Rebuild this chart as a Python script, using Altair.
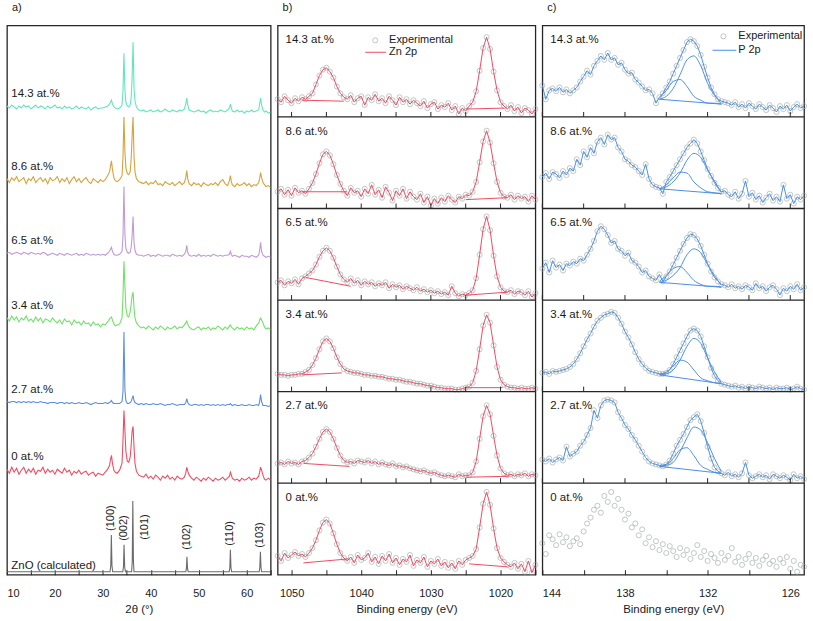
import altair as alt
import pandas as pd

FONT = "Liberation Sans"
INK = "#1a1a1a"
FRAME = "#262626"
CIRCLE = "#9ea7a7"
ZN_RED = "#ef4b62"
P_BLUE = "#4b8fe2"
CALC_COLOR = "#6b6b6b"

SAMPLES = ["14.3 at.%", "8.6 at.%", "6.5 at.%", "3.4 at.%", "2.7 at.%", "0 at.%"]
CALC_NAME = "ZnO (calculated)"
XRD_COLORS = ["#62e6bb", "#d8a23a", "#c29ad6", "#6fe267", "#5b8fdc", "#f04d62"]


def seq(start, stop, step):
    n = int(round((stop - start) / step)) + 1
    return [round(start + k * step, 3) for k in range(n)]


def check(name, xs, ys):
    if len(xs) != len(ys):
        raise ValueError(f"{name}: {len(xs)} x values but {len(ys)} y values")


# ---------------- a) XRD ----------------
XRD_2THETA = (seq(10, 31, 0.5)
              + [31.4, 31.6, 31.8, 32.0, 32.3, 32.6, 33.0, 33.5, 34.0, 34.2, 34.4, 34.6,
                 34.8, 35.1, 35.4, 35.7, 35.9, 36.1, 36.3, 36.5, 36.7, 37.0, 37.5, 38.0]
              + seq(38.5, 47, 0.5) + [47.3, 47.5, 47.7]
              + seq(48, 56, 0.5) + [56.4, 56.6, 56.8]
              + seq(57, 62.5, 0.5) + [62.7, 62.9, 63.1, 63.4, 63.7, 64.0, 64.5, 65.0])

XRD_14_3 = ([2, 0, 3, 1, -1, 2, 0, 3, 1, 2, -1, 1, 3, 0, 2, 1, -1, 2, 0, 1,
             3, 0, 1, -1, 2, 0, 1, -1, 0, 2, -1, 1, 0, -1, 1, -2, 0, 1, -1, 0, 0, 1, 2]
            + [4, 6, 8, 4, 1, 0, -1, 0, 3, 17, 55, 18, 6, 2, 1, 3, 10, 30, 66, 20, 7, 1, -2, -3]
            + [-2, -4, -3, -2, -4, -3, -2, -4, -3, -1, -3, -4, -2, -3, -4, -2, -3, -1]
            + [4, 10, 3]
            + [-2, -3, -4, -3, -2, -4, -3, -5, -3, -2, -4, -3, -4, -2, -3, -4, -2]
            + [0, 4, 0]
            + [-3, -4, -2, -4, -3, -5, -3, -4, -2, -4, -3, -2]
            + [4, 10, 3, -2, -4, -3, -5, -4])
XRD_8_6 = ([3, -1, 4, 1, 5, 0, 2, 4, -2, 3, 1, 5, -1, 2, 4, 0, 3, -2, 4, 1,
            2, 5, -1, 3, 0, 4, -2, 2, 5, 0, 3, -1, 2, 4, 0, -2, 3, 1, -1, 2, 0, 2, 6]
           + [10, 16, 21, 12, 4, 1, 0, 2, 6, 25, 65, 30, 14, 8, 7, 10, 22, 45, 65, 25, 10, 3, 0, -1]
           + [-2, 0, -3, -1, -2, 1, -3, -2, -4, 0, -2, -3, -1, -4, -2, 0, -3, -1]
           + [4, 11, 3]
           + [-2, -4, -1, -3, -2, -5, -1, -3, -4, -2, -3, -1, -4, 0, 2, -2, -4]
           + [1, 6, 0]
           + [-3, -5, -2, -4, -3, -1, -4, -2, -5, -3, -4, -1]
           + [3, 9, 4, -1, -3, -5, -4, -6])
XRD_6_5 = ([1, 2, 0, 1, 2, 1, 0, 2, 1, 0, 2, 1, 0, 1, 0, 2, 1, -1, 0, 1,
            0, -1, 1, 0, -1, 1, 0, -1, 0, 1, -1, 0, -1, 1, 0, -1, 0, -1, 0, -1, 0, -1, 1]
           + [3, 5, 7, 3, 0, -1, -1, 0, 3, 18, 68, 20, 6, 2, 1, 2, 7, 18, 38, 12, 4, 0, -1, -1]
           + [-2, -1, 0, -2, -1, -2, 0, -1, -2, -1, -1, -2, 0, -1, -2, -1, -2, 0]
           + [3, 9, 2]
           + [-1, -2, -1, -2, 0, -2, -1, -2, -1, -2, 0, -1, -2, -1, -2, -1, -1]
           + [0, 3, 0]
           + [-2, -1, -2, -3, -1, -2, -2, -3, -1, -2, -3, -1]
           + [4, 12, 3, -1, -2, -3, -2, -3])
XRD_3_4 = ([8, 5, 10, 6, 9, 4, 8, 6, 10, 5, 7, 4, 9, 5, 8, 3, 7, 6, 4, 8,
            5, 3, 6, 2, 7, 4, 5, 1, 6, 3, 4, 1, 5, 2, 3, 0, 4, 1, 2, -1, 2, 1, 4]
           + [7, 8, 9, 6, 2, 0, 1, 2, 8, 30, 65, 40, 18, 10, 9, 14, 22, 30, 34, 18, 8, 3, 0, -2]
           + [-1, -3, 0, -2, -4, -1, -3, 0, -2, -4, -1, -3, -2, 0, -3, -1, -2, 1]
           + [3, 5, 2]
           + [-1, -3, -4, -2, -1, -4, -2, -3, -1, -4, -2, -3, 0, -2, -4, -1, -3]
           + [0, 1, -1]
           + [-2, -4, -1, -3, -2, -4, -1, -3, -2, -4, 0, 3]
           + [6, 8, 6, 3, -1, -3, -2, -4])
XRD_2_7 = ([2, 1, 2, 2, 1, 2, 1, 2, 1, 2, 1, 2, 1, 1, 2, 1, 1, 0, 1, 1,
            1, 0, 1, 1, 0, 1, 0, 1, 0, 0, 1, 0, 0, 1, 0, -1, 0, 1, 0, 0, 0, 1, 0]
           + [1, 2, 3, 1, 0, 0, 0, 0, 2, 12, 72, 14, 3, 0, 0, 1, 2, 5, 8, 3, 1, 0, -1, 0]
           + [-1, 0, -1, -1, 0, -1, -1, 0, -1, -2, -1, -1, 0, -1, -2, -1, -1, -1]
           + [1, 5, 1]
           + [-1, -2, -1, -1, -2, -1, -2, -1, -1, -2, -1, -2, -1, -2, -1, -2, -1]
           + [-1, 0, -1]
           + [-2, -1, -2, -2, -1, -2, -2, -1, -2, -2, -1, -2]
           + [2, 9, 2, -2, -2, -2, -3, -2])
XRD_0 = ([6, 2, 8, 3, 7, 1, 5, 8, 2, 6, 3, 7, 1, 5, 4, 8, 2, 6, 3, 5,
          1, 6, 4, 2, 7, 3, 5, 0, 4, 2, 5, 1, 3, 4, 0, 2, 3, -1, 2, 1, 0, 3, 6]
         + [10, 16, 20, 12, 5, 3, 2, 5, 12, 35, 65, 45, 24, 14, 13, 18, 30, 44, 49, 28, 12, 4, 0, -1]
         + [-2, 1, -3, -1, -4, 0, -2, -5, -1, -3, 0, -4, -2, -5, -1, -3, -4, -2]
         + [2, 8, 4]
         + [0, -3, -5, -2, -4, -6, -3, -5, -2, -4, -6, -3, -5, -4, -2, -5, -3]
         + [-1, 3, 0]
         + [-3, -5, -4, -6, -3, -5, -4, -2, -5, -3, -4, -1]
         + [3, 8, 5, 0, -4, -5, -3, -5])
XRD_SERIES = [XRD_14_3, XRD_8_6, XRD_6_5, XRD_3_4, XRD_2_7, XRD_0]

CALC_2THETA = [10, 31.5, 31.65, 31.77, 31.9, 32.05, 34.15, 34.3, 34.42, 34.55, 34.7,
               36.0, 36.13, 36.25, 36.38, 36.5, 47.3, 47.42, 47.54, 47.66, 47.8,
               56.35, 56.48, 56.6, 56.72, 56.85, 62.6, 62.73, 62.86, 62.99, 63.1, 65]
CALC_I = [0, 0, 6, 37, 6, 0, 0, 5, 27, 5, 0, 0, 10, 71, 10, 0, 0, 3, 15, 3, 0,
          0, 4, 22, 4, 0, 0, 4, 20, 4, 0, 0]
HKL = ["(100)", "(002)", "(101)", "(102)", "(110)", "(103)"]
HKL_2THETA = [31.77, 34.42, 36.25, 47.54, 56.6, 62.86]

# stacking offsets of the XRD traces (layout)
XRD_OFFSETS = [469, 395, 322, 250, 172, 100]
CALC_OFFSET = 3

# ---------------- b) Zn 2p ----------------
ZN_E = seq(1052, 1015, -0.5)
ZN_14_3 = [18, 15, 21, 17, 14, 19, 16, 20, 18, 21,
           24, 33, 42, 48, 50, 46, 40, 31, 24, 20,
           18, 22, 15, 19, 21, 12, 20, 17, 23, 16,
           19, 14, 21, 17, 12, 20, 15, 18, 13, 17,
           14, 11, 16, 9, 13, 15, 8, 12, 10, 14,
           7, 11, 3, 9, 6, 11, 15, 26, 47, 70,
           81, 69, 46, 27, 15, 11, 8, 12, 6, 10,
           4, 9, 7, 3, 8]
ZN_8_6 = [17, 20, 14, 19, 13, 21, 16, 18, 15, 20,
          26, 35, 46, 55, 58, 54, 45, 34, 25, 18,
          13, 21, 16, 18, 12, 20, 15, 24, 14, 19,
          11, 22, 16, 8, 18, 13, 20, 10, 17, 12,
          9, 15, 6, 12, 3, 10, 5, 11, 7, 13,
          9, 6, 12, 10, 14, 13, 17, 27, 47, 68,
          79, 67, 46, 27, 16, 12, 11, 14, 9, 13,
          10, 12, 7, 13, 9]
ZN_6_5 = [18, 20, 15, 19, 17, 21, 16, 22, 24, 27,
          30, 36, 44, 50, 53, 50, 43, 34, 26, 21,
          18, 22, 17, 20, 15, 19, 16, 18, 14, 17,
          15, 18, 12, 16, 13, 15, 11, 14, 12, 10,
          13, 9, 11, 8, 10, 7, 9, 6, 8, 5,
          14, 7, 4, 6, 5, 7, 10, 22, 46, 72,
          85, 71, 45, 24, 13, 9, 8, 10, 6, 9,
          8, 5, 9, 3, 7]
ZN_3_4 = [18, 17, 17, 16, 17, 17, 18, 18, 20, 22,
          27, 34, 43, 51, 54, 51, 44, 35, 28, 23,
          21, 20, 19, 19, 18, 17, 17, 16, 16, 15,
          15, 14, 13, 13, 12, 12, 11, 10, 10, 9,
          8, 8, 7, 6, 6, 5, 4, 4, 3, 3,
          3, 2, 2, 3, 4, 5, 9, 21, 43, 67,
          78, 70, 47, 25, 12, 7, 5, 4, 4, 3,
          4, 3, 3, 4, 3]
ZN_2_7 = [20, 21, 19, 22, 20, 21, 19, 22, 23, 26,
          30, 37, 45, 52, 55, 52, 45, 36, 28, 23,
          21, 22, 20, 23, 22, 21, 23, 20, 22, 19,
          21, 19, 18, 20, 17, 18, 16, 17, 15, 14,
          13, 12, 13, 11, 10, 11, 9, 8, 7, 8,
          7, 6, 9, 7, 8, 8, 11, 22, 45, 68,
          79, 70, 48, 28, 15, 10, 8, 9, 7, 9,
          8, 10, 7, 9, 8]
ZN_0 = [19, 14, 22, 17, 20, 23, 19, 21, 18, 22,
        27, 35, 45, 53, 56, 52, 42, 31, 22, 17,
        14, 18, 12, 20, 15, 17, 22, 13, 18, 11,
        19, 14, 21, 12, 17, 10, 16, 13, 20, 9,
        15, 12, 18, 8, 14, 11, 16, 9, 13, 7,
        12, 6, 14, 10, 15, 17, 19, 26, 48, 72,
        84, 71, 47, 27, 17, 13, 10, 8, 12, 6,
        11, 3, 14, 2, 10]
ZN_SERIES = [ZN_14_3, ZN_8_6, ZN_6_5, ZN_3_4, ZN_2_7, ZN_0]
# fitted background lines under the two Zn 2p peaks: [E_start, y_start, E_end, y_end]
ZN_BASELINES = [
    [[1048.5, 17, 1042.5, 16], [1025.0, 8, 1019.5, 9]],
    [[1048.5, 17, 1042.0, 17], [1025.0, 9, 1019.0, 11]],
    [[1048.0, 23, 1041.5, 14], [1025.0, 5, 1019.0, 8]],
    [[1048.5, 17, 1042.8, 19], [1024.7, 4, 1019.7, 4]],
    [[1048.2, 20, 1041.7, 17], [1025.0, 6, 1018.8, 7]],
    [[1048.3, 12, 1041.9, 16], [1024.5, 11, 1019.0, 8]],
]

# ---------------- c) P 2p ----------------
P_E = seq(144, 125, -0.25)
P_14_3 = [32, 18, 27, 29, 26, 30, 25, 28, 24, 27,
          30, 36, 41, 47, 43, 52, 57, 62, 58, 65,
          58, 60, 53, 55, 48, 44, 45, 38, 35, 31,
          27, 28, 24, 14, 20, 24, 30, 36, 44, 52,
          60, 68, 76, 79, 77, 72, 63, 51, 40, 30,
          23, 18, 16, 15, 14, 12, 15, 10, 13, 9,
          14, 11, 8, 13, 10, 7, 12, 9, 5, 11,
          8, 12, 6, 10, 13, 9, 11]
P_8_6 = [32, 36, 30, 37, 35, 31, 38, 34, 41, 38,
         50, 44, 58, 52, 62, 56, 68, 72, 65, 75,
         70, 72, 62, 58, 50, 48, 44, 42, 38, 34,
         45, 30, 24, 22, 21, 15, 27, 32, 38, 44,
         50, 56, 62, 66, 70, 66, 58, 49, 40, 33,
         26, 21, 17, 18, 14, 12, 17, 10, 15, 28,
         12, 16, 9, 13, 6, 11, 15, 8, 12, 7,
         24, 10, 14, 5, 12, 9, 13]
P_6_5 = [32, 38, 28, 40, 33, 36, 30, 37, 35, 39,
         37, 42, 40, 46, 52, 60, 70, 75, 72, 66,
         58, 60, 52, 50, 45, 48, 40, 38, 34, 28,
         30, 24, 22, 20, 26, 19, 24, 29, 36, 43,
         50, 57, 63, 67, 66, 62, 55, 46, 37, 29,
         23, 19, 16, 15, 13, 16, 12, 14, 11, 15,
         13, 10, 17, 12, 14, 9, 13, 15, 11, 5,
         12, 9, 14, 11, 16, 10, 13]
P_3_4 = [19, 20, 18, 21, 20, 21, 22, 23, 25, 28,
         33, 39, 46, 53, 59, 66, 72, 75, 78, 79,
         81, 80, 75, 69, 61, 55, 48, 40, 33, 28,
         24, 21, 20, 19, 18, 18, 19, 22, 28, 35,
         42, 49, 56, 62, 64, 62, 56, 46, 35, 24,
         16, 11, 8, 7, 6, 5, 6, 4, 5, 3,
         5, 4, 3, 5, 4, 3, 4, 2, 4, 3,
         3, 4, 2, 3, 5, 3, 2]
P_2_7 = [24, 22, 25, 21, 24, 26, 23, 37, 27, 30,
         32, 38, 42, 49, 56, 74, 66, 79, 84, 85,
         84, 82, 72, 66, 59, 55, 49, 44, 38, 32,
         26, 22, 20, 19, 18, 17, 19, 23, 30, 38,
         44, 50, 57, 64, 67, 70, 63, 51, 37, 25,
         16, 12, 10, 8, 11, 7, 9, 6, 10, 21,
         8, 5, 7, 9, 6, 8, 4, 9, 7, 5,
         8, 6, 3, 9, 5, 7, 4]
P_0 = [32, 21, 40, 36, 30, 41, 33, 38, 29, 34,
       37, 31, 44, 52, 58, 66, 70, 63, 80, 74,
       84, 70, 77, 66, 56, 62, 48, 52, 40, 46,
       32, 38, 28, 34, 25, 31, 22, 29, 24, 18,
       27, 20, 25, 16, 22, 30, 18, 24, 14, 21,
       17, 12, 22, 15, 19, 27, 13, 18, 10, 16,
       21, 12, 17, 9, 15, 19, 11, 14, 8, 16,
       12, 18, 6, 14, 3, 10, 8]
P_SERIES = [P_14_3, P_8_6, P_6_5, P_3_4, P_2_7, P_0]

P_COMP_E = [135.5, 135.0, 134.5, 134.0, 133.5, 133.0, 132.5, 132.0, 131.5, 131.0]
P_LARGE = [[18, 21, 29, 43, 58, 62, 52, 34, 22, 14],
           [20, 22, 27, 36, 49, 56, 52, 39, 28, 16],
           [18, 20, 25, 33, 46, 52, 48, 36, 25, 15],
           [17, 18, 22, 32, 46, 54, 49, 34, 20, 9],
           [17, 18, 21, 32, 46, 57, 54, 41, 25, 12]]
P_SMALL = [[19, 27, 36, 38, 31, 21, 17, 14, 14, 13],
           [20, 24, 31, 37, 36, 27, 21, 17, 16, 15],
           [19, 25, 32, 34, 28, 20, 16, 14, 14, 13],
           [18, 20, 26, 32, 30, 22, 14, 11, 9, 8],
           [18, 19, 25, 34, 36, 28, 18, 14, 11, 10]]
P_BASE = [[18, 13], [20, 15], [18, 13], [17, 8], [17, 10]]

# ---------------- layout ----------------
W_A, W_B, W_C = 265, 259, 263
H = 552
N_SUB = 6
SUB = 93.0                      # data units per stacked XPS sub-panel
Y_TOTAL = N_SUB * SUB
TICK_UNITS = 5 * Y_TOTAL / H    # 5 px expressed in data units


def sub_offset(k):
    return (N_SUB - 1 - k) * SUB


def bottom_axis(values, label_expr, title):
    return alt.Axis(values=values, format="d", offset=-5, tickSize=5, tickWidth=1,
                    tickColor=FRAME, domain=False, grid=False,
                    labelExpr=label_expr, labelFont=FONT, labelFontSize=11,
                    labelColor=INK, labelPadding=13, title=title, titleFont=FONT,
                    titleFontSize=11.5, titleFontWeight="normal", titleColor=INK,
                    titlePadding=5)


def panel_title(text):
    return alt.TitleParams(text=text, anchor="start", frame="group", font=FONT,
                           fontSize=11, fontWeight="normal", color=INK, offset=12, dx=5)


def text_layer(label, x, y, size=11):
    return alt.Chart(alt.Data(values=[{"label": label}])).mark_text(
        align="left", baseline="middle", font=FONT, fontSize=size, color=INK
    ).encode(x=alt.value(x), y=alt.value(y), text="label:N")


def legend_layers(color, cx, tx, y1, lx1, lx2, y2, name):
    one = alt.Data(values=[{"k": 1}])
    return [
        alt.Chart(one).mark_point(shape="circle", filled=False, color=CIRCLE, size=26,
                                  strokeWidth=0.9).encode(x=alt.value(cx), y=alt.value(y1)),
        text_layer("Experimental", tx, y1),
        alt.Chart(one).mark_rule(color=color, strokeWidth=1).encode(
            x=alt.value(lx1), x2=alt.value(lx2), y=alt.value(y2)),
        text_layer(name, tx, y2),
    ]


def divider_layers(x_enc, y_enc, tick_values, width):
    div = pd.DataFrame({"y": [sub_offset(k) for k in range(N_SUB - 1)]})
    rules = alt.Chart(div).mark_rule(color=FRAME, strokeWidth=1.3).encode(
        y=y_enc, x=alt.value(0), x2=alt.value(width))
    trows = [{"E": v, "y": d, "y2": d + TICK_UNITS} for d in div["y"] for v in tick_values]
    ticks = alt.Chart(pd.DataFrame(trows)).mark_rule(color=FRAME, strokeWidth=1).encode(
        x=x_enc, y=y_enc, y2="y2:Q")
    return rules, ticks


def sample_labels(y_enc):
    df = pd.DataFrame({"label": SAMPLES,
                       "y": [sub_offset(k) + SUB - 15 for k in range(N_SUB)]})
    return alt.Chart(df).mark_text(align="left", baseline="middle", font=FONT,
                                   fontSize=11.5, color=INK).encode(
        x=alt.value(8), y=y_enc, text="label:N")


# ---- panel a ----
rows = []
for name, off, vals in zip(SAMPLES, XRD_OFFSETS, XRD_SERIES):
    check(name, XRD_2THETA, vals)
    for t, v in zip(XRD_2THETA, vals):
        rows.append({"t": t, "y": off + v, "s": name})
check("calc", CALC_2THETA, CALC_I)
for t, v in zip(CALC_2THETA, CALC_I):
    rows.append({"t": t, "y": CALC_OFFSET + v, "s": CALC_NAME})
df_a = pd.DataFrame(rows)

x_a = alt.X("t:Q", scale=alt.Scale(domain=[10, 65], nice=False, zero=False),
            axis=bottom_axis(seq(10, 65, 5), "datum.value % 10 === 0 ? datum.label : ''",
                             "2θ (°)"))
y_a = alt.Y("y:Q", scale=alt.Scale(domain=[0, H], nice=False, zero=False), axis=None)

lines_a = alt.Chart(df_a).mark_line(strokeWidth=1.1, clip=True).encode(
    x=x_a, y=y_a,
    color=alt.Color("s:N", scale=alt.Scale(domain=SAMPLES + [CALC_NAME],
                                           range=XRD_COLORS + [CALC_COLOR]), legend=None),
)

lab_rows = [{"t": 10.9, "y": off + vals[0] + 12, "label": name}
            for name, off, vals in zip(SAMPLES, XRD_OFFSETS, XRD_SERIES)]
lab_rows.append({"t": 10.9, "y": CALC_OFFSET + 6, "label": CALC_NAME})
labels_a = alt.Chart(pd.DataFrame(lab_rows)).mark_text(
    align="left", baseline="middle", font=FONT, fontSize=11.5, color=INK
).encode(x=x_a, y=y_a, text="label:N")

tops = {h: CALC_I[CALC_2THETA.index(p)] for h, p in zip(HKL, HKL_2THETA)}
hkl_rows = [{"t": p, "y": CALC_OFFSET + max(tops[h] + 4, 22), "hkl": h}
            for h, p in zip(HKL, HKL_2THETA) if h != "(101)"]
hkl_side = [{"t": HKL_2THETA[2], "y": CALC_OFFSET + tops["(002)"] + 5, "hkl": "(101)"}]
hkl_a = alt.Chart(pd.DataFrame(hkl_rows)).mark_text(
    angle=270, align="left", baseline="middle", font=FONT, fontSize=11, color=INK
).encode(x=x_a, y=y_a, text="hkl:N")
hkl_b = alt.Chart(pd.DataFrame(hkl_side)).mark_text(
    angle=270, align="left", baseline="middle", font=FONT, fontSize=11, color=INK, dy=12
).encode(x=x_a, y=y_a, text="hkl:N")

panel_a = alt.layer(lines_a, labels_a, hkl_a, hkl_b).properties(
    width=W_A, height=H, title=panel_title("a)"))

# ---- panel b ----
zrows, brows = [], []
for k in range(N_SUB):
    check(SAMPLES[k], ZN_E, ZN_SERIES[k])
    off = sub_offset(k)
    zrows += [{"E": e, "y": off + v, "k": k} for e, v in zip(ZN_E, ZN_SERIES[k])]
    for j, (e1, y1, e2, y2) in enumerate(ZN_BASELINES[k]):
        brows += [{"E": e1, "y": off + y1, "seg": f"{k}-{j}"},
                  {"E": e2, "y": off + y2, "seg": f"{k}-{j}"}]
df_zn = pd.DataFrame(zrows)
ZN_TICKS = seq(1050, 1015, -5)
x_b = alt.X("E:Q", scale=alt.Scale(domain=[1015, 1052], reverse=True, nice=False, zero=False),
            axis=bottom_axis(ZN_TICKS, "datum.value % 10 === 0 ? datum.label : ''",
                             "Binding energy (eV)"))
y_b = alt.Y("y:Q", scale=alt.Scale(domain=[0, Y_TOTAL], nice=False, zero=False), axis=None)

pts_b = alt.Chart(df_zn).mark_point(shape="circle", filled=False, color=CIRCLE, size=26,
                                    strokeWidth=0.9).encode(x=x_b, y=y_b)
line_b = alt.Chart(df_zn).mark_line(color=ZN_RED, strokeWidth=1).encode(
    x=x_b, y=y_b, detail="k:N")
base_b = alt.Chart(pd.DataFrame(brows)).mark_line(color=ZN_RED, strokeWidth=1).encode(
    x=x_b, y=y_b, detail="seg:N")
div_b, tick_b = divider_layers(x_b, y_b, ZN_TICKS, W_B)
panel_b = alt.layer(
    pts_b, line_b, base_b, div_b, tick_b, sample_labels(y_b),
    *legend_layers(ZN_RED, 98, 112, 15, 88, 109, 27, "Zn 2p"),
).properties(width=W_B, height=H, title=panel_title("b)"))

# ---- panel c ----
prows, crows = [], []
for k in range(N_SUB):
    check(SAMPLES[k], P_E, P_SERIES[k])
    off = sub_offset(k)
    prows += [{"E": e, "y": off + v, "k": k, "fit": k < 5} for e, v in zip(P_E, P_SERIES[k])]
    if k < 5:
        for name, vals in (("large", P_LARGE[k]), ("small", P_SMALL[k])):
            check(name, P_COMP_E, vals)
            crows += [{"E": e, "y": off + v, "c": f"{k}-{name}"} for e, v in zip(P_COMP_E, vals)]
        crows += [{"E": P_COMP_E[0], "y": off + P_BASE[k][0], "c": f"{k}-base"},
                  {"E": P_COMP_E[-1], "y": off + P_BASE[k][1], "c": f"{k}-base"}]
df_p = pd.DataFrame(prows)
P_TICKS = seq(144, 126, -3)
x_c = alt.X("E:Q", scale=alt.Scale(domain=[125, 144], reverse=True, nice=False, zero=False),
            axis=bottom_axis(P_TICKS, "(144 - datum.value) % 6 === 0 ? datum.label : ''",
                             "Binding energy (eV)"))
y_c = alt.Y("y:Q", scale=alt.Scale(domain=[0, Y_TOTAL], nice=False, zero=False), axis=None)

pts_c = alt.Chart(df_p).mark_point(shape="circle", filled=False, color=CIRCLE, size=26,
                                   strokeWidth=0.9).encode(x=x_c, y=y_c)
line_c = alt.Chart(df_p).transform_filter("datum.fit").mark_line(
    color=P_BLUE, strokeWidth=1).encode(x=x_c, y=y_c, detail="k:N")
comp_c = alt.Chart(pd.DataFrame(crows)).mark_line(
    color=P_BLUE, strokeWidth=1, interpolate="monotone").encode(x=x_c, y=y_c, detail="c:N")
div_c, tick_c = divider_layers(x_c, y_c, P_TICKS, W_C)
panel_c = alt.layer(
    pts_c, line_c, comp_c, div_c, tick_c, sample_labels(y_c),
    *legend_layers(P_BLUE, 182, 197, 11, 171, 195, 25, "P 2p"),
).properties(width=W_C, height=H, title=panel_title("c)"))

chart = alt.hconcat(panel_a, panel_b, panel_c, spacing=7, bounds="flush").properties(
    padding={"left": 5, "top": 0, "right": 4, "bottom": 2},
    background="white",
).configure_view(stroke=FRAME, strokeWidth=1.3)

chart.save("out.html", embed_options={"renderer": "svg", "actions": False})
